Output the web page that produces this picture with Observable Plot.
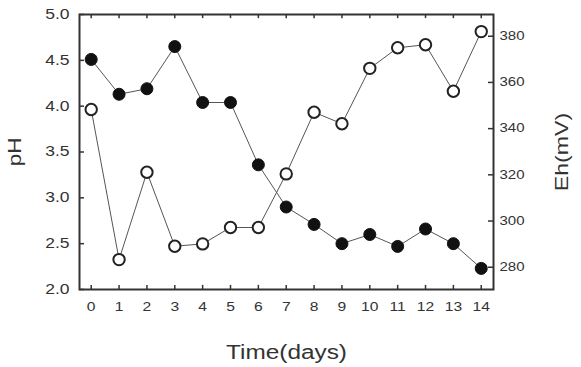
<!DOCTYPE html>
<html>
<head>
<meta charset="utf-8">
<script src="https://cdn.jsdelivr.net/npm/d3@7"></script>
<script src="https://cdn.jsdelivr.net/npm/@observablehq/plot@0.6"></script>
<style>
  html, body { margin: 0; padding: 0; background: #fff; }
  #chart { width: 581px; height: 367px; }
</style>
</head>
<body>
<div id="chart"></div>
<script>
// ---- data ----
const days = [0, 1, 2, 3, 4, 5, 6, 7, 8, 9, 10, 11, 12, 13, 14];
const pHValues = [4.51, 4.13, 4.19, 4.65, 4.04, 4.04, 3.36, 2.90, 2.71, 2.50, 2.60, 2.47, 2.66, 2.50, 2.23];
const EhValues = [348.3, 283.3, 321.1, 289.1, 290.1, 297.2, 297.2, 320.4, 347.1, 342.1, 366.1, 375.0, 376.3, 356.2, 382.0];
const xTicks = [0, 1, 2, 3, 4, 5, 6, 7, 8, 9, 10, 11, 12, 13, 14];
const pHTicks = [2.0, 2.5, 3.0, 3.5, 4.0, 4.5, 5.0];
const EhTicks = [280, 300, 320, 340, 360, 380];
const xTitle = "Time(days)";
const yTitleLeft = "pH";
const yTitleRight = "Eh(mV)";

// right axis (Eh) mapped onto the pH scale
const ehToPH = e => 2.243 + (e - 280) * 0.0252;
const phToEh = p => 280 + (p - 2.243) / 0.0252;

const rows = days.map((d, i) => ({day: d, pH: pHValues[i], Eh: EhValues[i]}));
const X0 = -0.42, X1 = 14.44;

const chart = Plot.plot({
  width: 581,
  height: 367,
  marginLeft: 79,
  marginRight: 88,
  marginTop: 14,
  marginBottom: 78,
  style: {fontFamily: "'Liberation Sans', Arial, sans-serif", color: "#333", background: "#fff"},
  x: {domain: [X0, X1]},
  y: {domain: [2, 5]},
  marks: [
    Plot.lineY(rows, {x: "day", y: "pH", stroke: "#555", strokeWidth: 1}),
    Plot.lineY(rows, {x: "day", y: d => ehToPH(d.Eh), stroke: "#555", strokeWidth: 1}),
    Plot.dot(rows, {x: "day", y: "pH", r: 6, fill: "#111", stroke: "#111", strokeWidth: 1}),
    Plot.dot(rows, {x: "day", y: d => ehToPH(d.Eh), r: 5.7, fill: "#fff", stroke: "#222", strokeWidth: 2}),
    // inward ticks
    Plot.ruleX(xTicks, {x: d => d, y1: 2, y2: 2.045, stroke: "#333", strokeWidth: 1.5}),
    Plot.ruleX(xTicks, {x: d => d, y1: 5, y2: 4.955, stroke: "#333", strokeWidth: 1.5}),
    Plot.ruleY(pHTicks, {y: d => d, x1: X0, x2: X0 + 0.18, stroke: "#333", strokeWidth: 1.5}),
    Plot.ruleY(EhTicks, {y: d => ehToPH(d), x1: X1, x2: X1 - 0.18, stroke: "#333", strokeWidth: 1.5}),
    Plot.frame({stroke: "#333", strokeWidth: 2}),
    Plot.axisX({ticks: xTicks, tickSize: 0, tickPadding: 12.7, fontSize: 12.5, tickFormat: d => String(d), label: null}),
    Plot.axisY({anchor: "left", ticks: pHTicks, tickSize: 0, tickPadding: 10, fontSize: 14, tickFormat: d => d.toFixed(1), label: null}),
    Plot.axisY({anchor: "right", ticks: EhTicks.map(ehToPH), tickSize: 0, tickPadding: 6, fontSize: 12, tickFormat: d => String(Math.round(phToEh(d))), label: null}),
    Plot.text([yTitleLeft], {frameAnchor: "left", dx: -64, rotate: -90, textAnchor: "middle", lineAnchor: "middle", fontSize: 18, fill: "#333"}),
    Plot.text([yTitleRight], {frameAnchor: "right", dx: 69, rotate: -90, textAnchor: "middle", lineAnchor: "middle", fontSize: 18.5, fill: "#333"}),
    Plot.text([xTitle], {frameAnchor: "bottom", dy: 69, fontSize: 19.5, fill: "#333"})
  ]
});

document.getElementById("chart").appendChild(chart);

// the reference text is horizontally wide: stretch each label's glyphs along its baseline,
// keeping its anchor point (start / middle / end) where it was
for (const t of chart.querySelectorAll("text")) {
  const w = t.getComputedTextLength();
  if (!(w > 0)) continue;
  const b0 = t.getBBox();
  t.setAttribute("textLength", (w * 1.25).toFixed(2));
  t.setAttribute("lengthAdjust", "spacingAndGlyphs");
  const b1 = t.getBBox();
  const anchor = getComputedStyle(t).textAnchor;
  let shift;
  if (anchor === "middle") shift = (b0.x + b0.width / 2) - (b1.x + b1.width / 2);
  else if (anchor === "end") shift = (b0.x + b0.width) - (b1.x + b1.width);
  else shift = b0.x - b1.x;
  if (Math.abs(shift) > 0.3) {
    const x = parseFloat(t.getAttribute("x")) || 0;
    t.setAttribute("x", (x + shift).toFixed(2));
  }
}
</script>
</body>
</html>
